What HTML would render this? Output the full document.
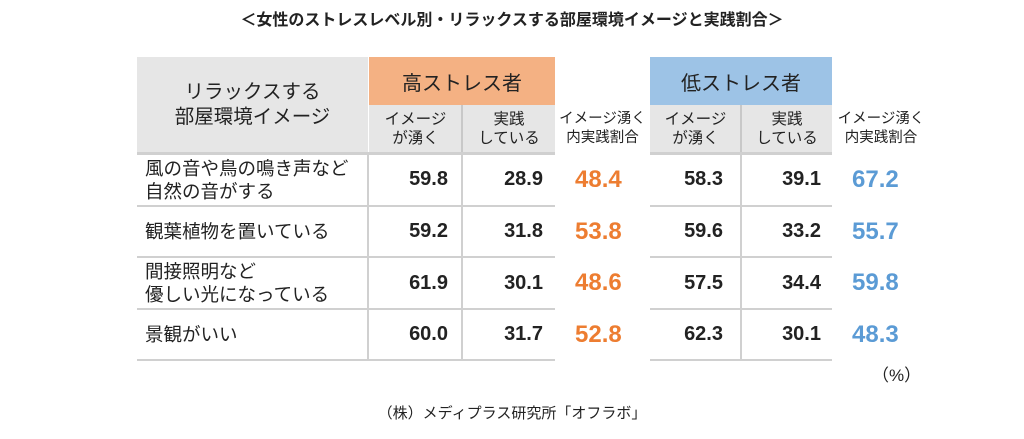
<!DOCTYPE html>
<html><head><meta charset="utf-8"><style>
body{margin:0;width:1024px;height:439px;background:#fff;position:relative;overflow:hidden;font-family:"Liberation Sans","Noto Sans CJK JP",sans-serif;color:#222}
.a{position:absolute}
.c{display:flex;align-items:center;justify-content:center;text-align:center}
.hl{height:2px;background:#d0d0d0}
.vl{width:2px;background:#d0d0d0}
.num{font-weight:bold;font-size:20px;text-align:right;width:90px}
.rat{font-weight:bold;font-size:24px}
.lab{font-size:18.5px;line-height:23px}
.sub{font-size:15.5px;line-height:19px}
</style></head><body>
<div class="a c" style="left:0;top:6px;width:1024px;height:24px;font-size:16px;font-weight:bold">＜女性のストレスレベル別・リラックスする部屋環境イメージと実践割合＞</div>

<div class="a c" style="left:137px;top:57px;width:231px;height:96px;background:#e6e6e6;font-size:19.5px;line-height:25px">リラックスする<br>部屋環境イメージ</div>
<div class="a c" style="left:369px;top:57px;width:186px;height:48px;background:#f4b183;font-size:20px">高ストレス者</div>
<div class="a c sub" style="left:369px;top:105px;width:93px;height:48px;background:#e6e6e6">イメージ<br>が湧く</div>
<div class="a c sub" style="left:463px;top:105px;width:92px;height:48px;background:#e6e6e6">実践<br>している</div>
<div class="a c sub" style="left:553px;top:105px;width:99px;height:48px;font-size:14.5px">イメージ湧く<br>内実践割合</div>
<div class="a c" style="left:650px;top:57px;width:182px;height:48px;background:#9dc3e6;font-size:20px">低ストレス者</div>
<div class="a c sub" style="left:650px;top:105px;width:91px;height:48px;background:#e6e6e6">イメージ<br>が湧く</div>
<div class="a c sub" style="left:742px;top:105px;width:90px;height:48px;background:#e6e6e6">実践<br>している</div>
<div class="a c sub" style="left:831px;top:105px;width:100px;height:48px;font-size:14.5px">イメージ湧く<br>内実践割合</div>
<div class="a vl" style="left:461px;top:105px;height:48px;background:#c8c8c8"></div>
<div class="a vl" style="left:740px;top:105px;height:48px;background:#c8c8c8"></div>

<div id="rows"></div>
<div class="a" style="left:872px;top:361px;font-size:17px">（%）</div>
<div class="a c" style="left:0;top:401px;width:1024px;height:22px;font-size:15px">（株）メディプラス研究所「オフラボ」</div>

<script>
const labels=["風の音や鳥の鳴き声など<br>自然の音がする","観葉植物を置いている","間接照明など<br>優しい光になっている","景観がいい"];
const highImage=[59.8,59.2,61.9,60.0];
const highPractice=[28.9,31.8,30.1,31.7];
const highRatio=[48.4,53.8,48.6,52.8];
const lowImage=[58.3,59.6,57.5,62.3];
const lowPractice=[39.1,33.2,34.4,30.1];
const lowRatio=[67.2,55.7,59.8,48.3];
const root=document.getElementById('rows');
const tops=[153,206,257,309,360];
function mk(cls,style,html,name){const d=document.createElement('div');d.className='a '+cls;d.setAttribute('style',style);d.innerHTML=html;


root.appendChild(d);return d;}
tops.forEach((t,i)=>{
 mk('hl','left:137px;top:'+(t-1)+'px;width:418px;'+(i==0?'height:3px;':''),'', 'row-line');
 mk('hl','left:650px;top:'+(t-1)+'px;width:182px;'+(i==0?'height:3px;':''),'', 'row-line');
});
[367,461,740].forEach(x=>{
 mk('vl','left:'+x+'px;top:153px;height:207px','', 'column-line');
});
labels.forEach((l,i)=>{
 const t=tops[i],h=tops[i+1]-t;
 const yc='top:'+t+'px;height:'+h+'px;display:flex;align-items:center;';
 mk('lab',yc+'left:145px;width:222px;',l,'row-label');
 mk('num',yc+'left:358px;justify-content:flex-end;',highImage[i].toFixed(1),'high-image-value');
 mk('num',yc+'left:453px;justify-content:flex-end;',highPractice[i].toFixed(1),'high-practice-value');
 mk('rat',yc+'left:575px;color:#ed7d31;',highRatio[i].toFixed(1),'high-ratio-value');
 mk('num',yc+'left:633px;justify-content:flex-end;',lowImage[i].toFixed(1),'low-image-value');
 mk('num',yc+'left:731px;justify-content:flex-end;',lowPractice[i].toFixed(1),'low-practice-value');
 mk('rat',yc+'left:852px;color:#5b9bd5;',lowRatio[i].toFixed(1),'low-ratio-value');
});
</script>
</body></html>
